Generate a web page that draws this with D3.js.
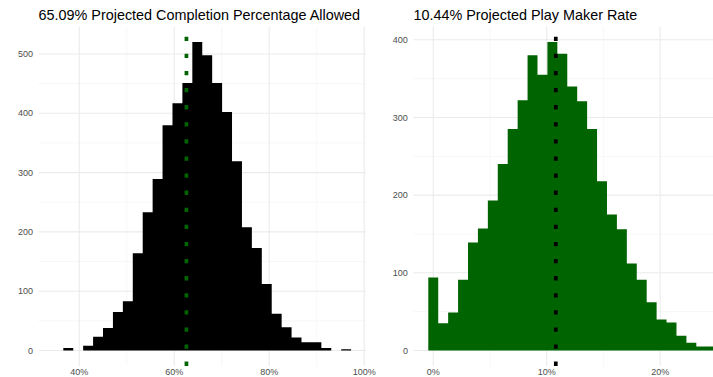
<!DOCTYPE html>
<html>
<head>
<meta charset="utf-8">
<script src="https://cdn.jsdelivr.net/npm/d3@7"></script>
<style>
  body { margin: 0; background: #fff; }
  svg { display: block; font-family: "Liberation Sans", Arial, sans-serif; }
</style>
</head>
<body>
<div id="chart"></div>
<script>
// histogram counts, 30 bins each
const compCounts = [0, 4, 0, 8, 23, 38, 65, 83, 164, 233, 289, 380, 417, 451, 520,
  498, 451, 402, 319, 208, 173, 112, 62, 39, 22, 14, 14, 4, 0, 2];
const compBinStart = 34.55;   // percent
const compBinWidth = 2.09;
const compLine = 62.57;
const compTitle = "65.09% Projected Completion Percentage Allowed";
const compXTicks = [40, 60, 80, 100];
const compXMinor = [50, 70, 90];
const compYTicks = [0, 100, 200, 300, 400, 500];
const compYMinor = [50, 150, 250, 350, 450];

const pmCounts = [94, 35, 49, 91, 139, 157, 193, 240, 285, 322, 380, 355, 397, 382, 340,
  321, 285, 218, 175, 156, 112, 91, 62, 40, 36, 19, 10, 5, 5, 2];
const pmBinStart = -0.4375;
const pmBinWidth = 0.875;
const pmLine = 10.8;
const pmTitle = "10.44% Projected Play Maker Rate";
const pmXTicks = [0, 10, 20];
const pmXMinor = [5, 15, 25];
const pmYTicks = [0, 100, 200, 300, 400];
const pmYMinor = [50, 150, 250, 350];

const W = 713, H = 377;
const panelTop = 26.7, panelBottom = 365.9;

const svg = d3.select("#chart").append("svg")
  .attr("width", W).attr("height", H);

function panel(opt) {
  const n = opt.counts.length;
  const xMin = opt.binStart, xMax = opt.binStart + n * opt.binWidth;
  const xPad = (xMax - xMin) * 0.05;
  const x = d3.scaleLinear().domain([xMin - xPad, xMax + xPad]).range([opt.x0, opt.x1]);
  const yMax = d3.max(opt.counts);
  const y = d3.scaleLinear().domain([-yMax * 0.05, yMax * 1.05]).range([panelBottom, panelTop]);

  const g = svg.append("g");

  // minor grid
  g.selectAll(".ymin").data(opt.yMinor).enter().append("line")
    .attr("x1", opt.x0).attr("x2", opt.x1)
    .attr("y1", d => y(d)).attr("y2", d => y(d))
    .attr("stroke", "#f2f2f2").attr("stroke-width", 0.6);
  g.selectAll(".xmin").data(opt.xMinor).enter().append("line")
    .attr("x1", d => x(d)).attr("x2", d => x(d))
    .attr("y1", panelTop).attr("y2", panelBottom)
    .attr("stroke", "#f2f2f2").attr("stroke-width", 0.6);
  // major grid
  g.selectAll(".ymaj").data(opt.yTicks).enter().append("line")
    .attr("x1", opt.x0).attr("x2", opt.x1)
    .attr("y1", d => y(d)).attr("y2", d => y(d))
    .attr("stroke", "#ebebeb").attr("stroke-width", 1.1);
  g.selectAll(".xmaj").data(opt.xTicks).enter().append("line")
    .attr("x1", d => x(d)).attr("x2", d => x(d))
    .attr("y1", panelTop).attr("y2", panelBottom)
    .attr("stroke", "#ebebeb").attr("stroke-width", 1.1);

  // bars as one stepped area so neighbouring bins have no seams
  const steps = opt.counts.map((c, i) => ({x: opt.binStart + i * opt.binWidth, c}));
  steps.push({x: opt.binStart + n * opt.binWidth, c: 0});
  const area = d3.area()
    .curve(d3.curveStepAfter)
    .x(d => x(d.x))
    .y0(y(0))
    .y1(d => y(d.c));
  g.append("path")
    .datum(steps)
    .attr("d", area)
    .attr("fill", opt.barColor);

  // dotted reference line, drawn bottom to top
  g.append("line")
    .attr("x1", x(opt.line)).attr("x2", x(opt.line))
    .attr("y1", panelBottom).attr("y2", panelTop)
    .attr("stroke", opt.lineColor)
    .attr("stroke-width", 3.7)
    .attr("stroke-dasharray", "4.3 12.8");

  // axis labels
  g.selectAll(".ylab").data(opt.yTicks).enter().append("text")
    .attr("x", opt.x0 - 5.5).attr("y", d => y(d))
    .attr("dy", "0.35em").attr("text-anchor", "end")
    .attr("font-size", 9).attr("fill", "#4d4d4d")
    .text(d => d);
  g.selectAll(".xlab").data(opt.xTicks).enter().append("text")
    .attr("x", d => x(d)).attr("y", 375)
    .attr("text-anchor", "middle")
    .attr("font-size", 9).attr("fill", "#4d4d4d")
    .text(d => d + "%");

  g.append("text")
    .attr("x", opt.x0).attr("y", 19.5)
    .attr("font-size", 14.4).attr("fill", "#000")
    .text(opt.title);
}

panel({
  counts: compCounts, binStart: compBinStart, binWidth: compBinWidth,
  line: compLine, title: compTitle,
  xTicks: compXTicks, xMinor: compXMinor, yTicks: compYTicks, yMinor: compYMinor,
  x0: 38.5, x1: 366, barColor: "#000000", lineColor: "#006400"
});

panel({
  counts: pmCounts, binStart: pmBinStart, binWidth: pmBinWidth,
  line: pmLine, title: pmTitle,
  xTicks: pmXTicks, xMinor: pmXMinor, yTicks: pmYTicks, yMinor: pmYMinor,
  x0: 413.4, x1: 741, barColor: "#006400", lineColor: "#000000"
});
</script>
</body>
</html>
